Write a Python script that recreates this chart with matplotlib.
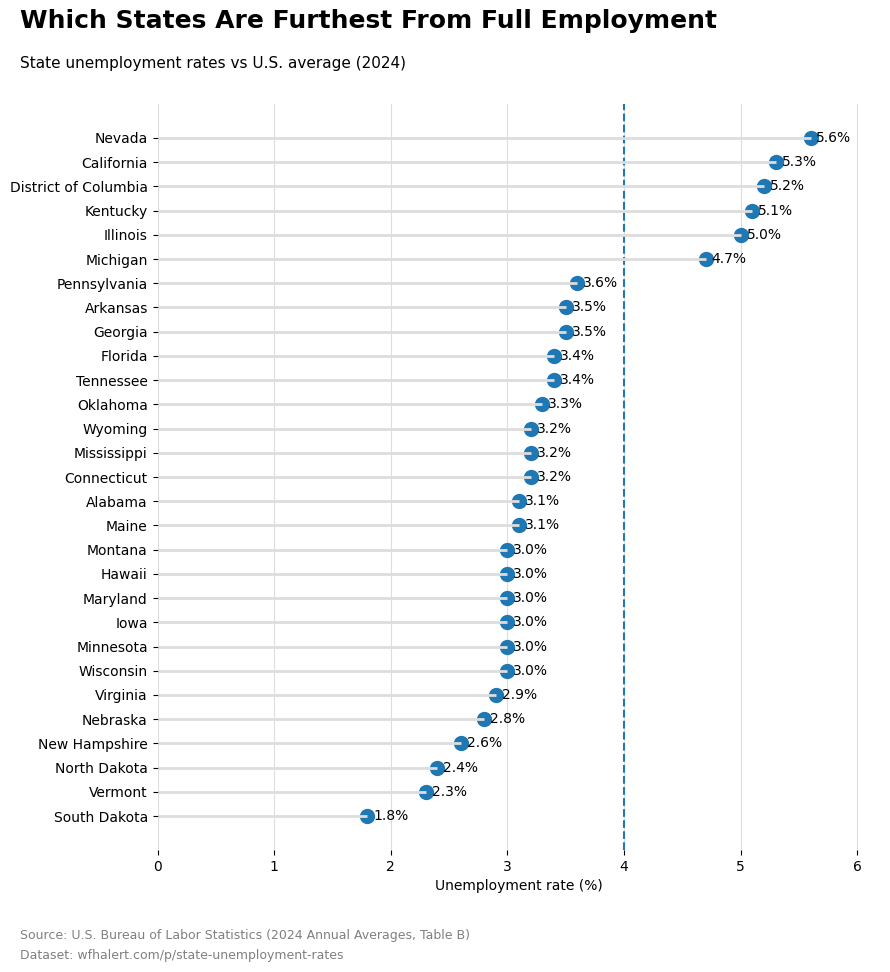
import matplotlib
matplotlib.use("Agg")
from matplotlib import pyplot as plt

estados = ['Nevada', 'California', 'District of Columbia', 'Kentucky', 'Illinois',
           'Michigan', 'Pennsylvania', 'Arkansas', 'Georgia', 'Florida', 'Tennessee',
           'Oklahoma', 'Wyoming', 'Mississippi', 'Connecticut', 'Alabama', 'Maine',
           'Montana', 'Hawaii', 'Maryland', 'Iowa', 'Minnesota', 'Wisconsin',
           'Virginia', 'Nebraska', 'New Hampshire', 'North Dakota', 'Vermont',
           'South Dakota']
tasas = [5.6, 5.3, 5.2, 5.1, 5.0, 4.7, 3.6, 3.5, 3.5, 3.4, 3.4, 3.3, 3.2, 3.2, 3.2,
         3.1, 3.1, 3.0, 3.0, 3.0, 3.0, 3.0, 3.0, 2.9, 2.8, 2.6, 2.4, 2.3, 1.8]
promedio_us = 4.0

# orden de abajo hacia arriba
estados = estados[::-1]
tasas = tasas[::-1]
pos = list(range(len(estados)))

fig = plt.figure(figsize=(8.9, 9.72), dpi=100)
ax = fig.add_axes([0.177, 0.1255, 0.8124, 0.7675])

ax.grid(axis='x', color='#dddddd', linewidth=0.8, zorder=0)
ax.set_axisbelow(True)
ax.scatter(tasas, pos, s=100, color='#1f77b4', zorder=2)
ax.hlines(pos, 0, tasas, color='#dddddd', linewidth=2, zorder=3)
ax.axvline(promedio_us, color='#1f77b4', linestyle='--', linewidth=1.5, zorder=1)

for t, p in zip(tasas, pos):
    ax.text(t + 0.05, p, f'{t:.1f}%', va='center', ha='left', fontsize=10, zorder=4)

ax.set_yticks(pos)
ax.set_yticklabels(estados, fontsize=10)
ax.set_xlim(0, 6.2)
ax.set_xticks([0, 1, 2, 3, 4, 5, 6])
ax.set_xlabel('Unemployment rate (%)', fontsize=10)
for s in ax.spines.values():
    s.set_visible(False)

fig.text(0.022, 0.978, 'Which States Are Furthest From Full Employment',
         fontsize=18, fontweight='bold', va='center', ha='left')
fig.text(0.022, 0.935, 'State unemployment rates vs U.S. average (2024)',
         fontsize=11, va='center', ha='left')
fig.text(0.022, 0.038, 'Source: U.S. Bureau of Labor Statistics (2024 Annual Averages, Table B)',
         fontsize=9, color='gray', va='center', ha='left')
fig.text(0.022, 0.017, 'Dataset: wfhalert.com/p/state-unemployment-rates',
         fontsize=9, color='gray', va='center', ha='left')

fig.savefig('out.png', dpi=100)
